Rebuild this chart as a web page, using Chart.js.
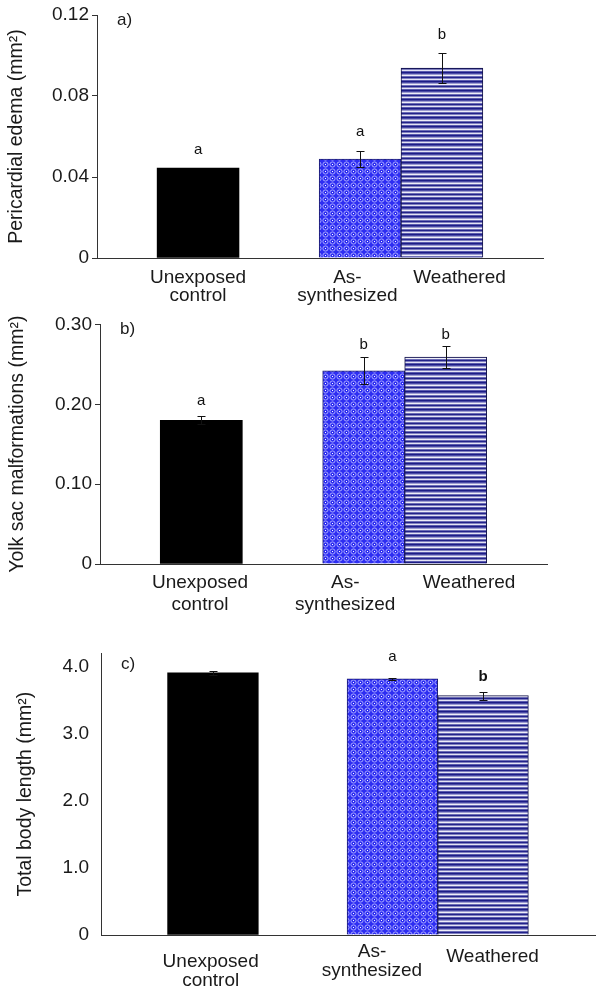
<!DOCTYPE html>
<html>
<head>
<meta charset="utf-8">
<script src="https://cdn.jsdelivr.net/npm/chart.js@4.4.1/dist/chart.umd.min.js"></script>
<style>
  html, body { margin: 0; padding: 0; background: #fff; }
  #wrap { position: relative; width: 600px; height: 998px; }
  canvas { position: absolute; left: 0; }
</style>
</head>
<body>
<div id="wrap">
  <canvas id="chartA" width="600" height="310" style="top:0px"></canvas>
  <canvas id="chartB" width="600" height="320" style="top:310px"></canvas>
  <canvas id="chartC" width="600" height="368" style="top:630px"></canvas>
</div>
<script>
// data
const categories = [['Unexposed', 'control'], ['As-', 'synthesized'], ['Weathered']];

const edema = [0.0444, 0.0489, 0.0938];
const edemaErr = [0, 0.004, 0.0075];
const edemaLetters = ['a', 'a', 'b'];
const edemaTicks = [0, 0.04, 0.08, 0.12];
const edemaTickLabels = ['0', '0.04', '0.08', '0.12'];

const yolk = [0.180, 0.242, 0.259];
const yolkErr = [0.005, 0.017, 0.014];
const yolkLetters = ['a', 'b', 'b'];
const yolkTicks = [0, 0.10, 0.20, 0.30];
const yolkTickLabels = ['0', '0.10', '0.20', '0.30'];

const bodyLength = [3.91, 3.82, 3.57];
const bodyLengthErr = [0.025, 0.02, 0.06];
const bodyLengthLetters = ['', 'a', 'b'];
const lengthTicks = [0, 1, 2, 3, 4];
const lengthTickLabels = ['0', '1.0', '2.0', '3.0', '4.0'];

// layout: where the bars sit on a 0..5.45 slot axis
const barSlots = [1.235, 3.215, 4.215];
const slotMax = 5.45;
const FONT = '"Liberation Sans", Arial, sans-serif';

// fill patterns
function dotPattern() {
  const c = document.createElement('canvas');
  c.width = 7; c.height = 7;
  const g = c.getContext('2d');
  g.fillStyle = '#2e2ef2';
  g.fillRect(0, 0, 7, 7);
  g.strokeStyle = '#a8a8ff';
  g.lineWidth = 1;
  g.beginPath();
  g.arc(3.5, 3.5, 2.6, 0, Math.PI * 2);
  g.stroke();
  g.fillStyle = '#ffffff';
  g.fillRect(3, 3, 1, 1);
  return g.createPattern(c, 'repeat');
}
function stripePattern() {
  const c = document.createElement('canvas');
  c.width = 4; c.height = 9;
  const g = c.getContext('2d');
  const rows = ['#1c1c86', '#4a4aa6', '#9c9cd0', '#eeeef8', '#6c6cb6',
                '#22228a', '#8080c0', '#e4e4f4', '#5a5aae'];
  rows.forEach((col, i) => { g.fillStyle = col; g.fillRect(0, i, 4, 1); });
  return g.createPattern(c, 'repeat');
}

function decorPlugin(cfg) {
  return {
    id: 'decor',
    afterDatasetsDraw(chart) {
      const ctx = chart.ctx;
      const meta = chart.getDatasetMeta(0);
      const xs = chart.scales.x, ys = chart.scales.y;
      const area = chart.chartArea;
      ctx.save();
      // error bars
      ctx.strokeStyle = '#111';
      ctx.lineWidth = 1;
      meta.data.forEach((bar, i) => {
        const e = cfg.err[i];
        if (!e) return;
        const v = cfg.values[i];
        const cx = Math.round(bar.x) + 0.5;
        const top = Math.round(ys.getPixelForValue(v + e)) + 0.5;
        const bot = Math.round(ys.getPixelForValue(v - e)) + 0.5;
        ctx.beginPath();
        ctx.moveTo(cx, top); ctx.lineTo(cx, bot);
        ctx.moveTo(cx - 4, top); ctx.lineTo(cx + 4, top);
        ctx.moveTo(cx - 4, bot); ctx.lineTo(cx + 4, bot);
        ctx.stroke();
      });
      // significance letters
      ctx.fillStyle = '#111';
      ctx.textAlign = 'center';
      ctx.textBaseline = 'middle';
      meta.data.forEach((bar, i) => {
        const l = cfg.letters[i];
        if (!l) return;
        ctx.font = cfg.letterFont[i] + ' 15px ' + FONT;
        const top = ys.getPixelForValue(cfg.values[i] + cfg.err[i]);
        ctx.fillText(l, bar.x, top - cfg.letterGap[i]);
      });
      // category labels
      ctx.fillStyle = '#1a1a1a';
      ctx.font = '19px ' + FONT;
      categories.forEach((lines, i) => {
        const px = xs.getPixelForValue(cfg.labelSlots[i]);
        lines.forEach((t, k) => {
          ctx.fillText(t, px, area.bottom + cfg.labelDy[i] + k * cfg.lineHeight);
        });
      });
      // panel tag
      ctx.textAlign = 'left';
      ctx.font = '17px ' + FONT;
      ctx.fillText(cfg.tag, area.left + 20, area.top + cfg.tagDy);
      ctx.restore();
    }
  };
}

function makePanel(id, cfg) {
  const colors = ['#000000', dotPattern(), stripePattern()];
  new Chart(document.getElementById(id), {
    type: 'bar',
    data: {
      datasets: [{
        data: cfg.values.map((v, i) => ({ x: barSlots[i], y: v })),
        backgroundColor: colors,
        borderColor: ['#000000', '#1a1a70', '#14144a'],
        borderWidth: [0, 1, 1],
        barPercentage: 1,
        categoryPercentage: 1
      }]
    },
    options: {
      responsive: false,
      animation: false,
      layout: { padding: cfg.padding },
      plugins: { legend: { display: false }, tooltip: { enabled: false } },
      scales: {
        x: {
          type: 'linear',
          offset: false,
          min: 0,
          max: slotMax,
          afterBuildTicks: s => { s.ticks = barSlots.map(v => ({ value: v })); },
          afterFit: s => { s.height = 0; },
          ticks: { display: false },
          grid: { display: false, offset: false },
          border: { display: true, color: '#333', width: 1 }
        },
        y: {
          min: 0,
          max: cfg.max,
          afterBuildTicks: s => { s.ticks = cfg.ticks.map(v => ({ value: v })); },
          afterFit: s => { s.width = cfg.axisWidth; },
          ticks: {
            color: '#1a1a1a',
            font: { family: FONT, size: 19 },
            padding: cfg.tickPad,
            callback: (v, i) => cfg.tickLabels[i]
          },
          grid: { display: true, drawOnChartArea: false, drawTicks: cfg.drawTicks, tickLength: 5, color: '#333' },
          border: { display: true, color: '#333', width: 1 },
          title: {
            display: true,
            text: cfg.title,
            color: '#1a1a1a',
            font: { family: FONT, size: 19.5 },
            padding: { top: cfg.titlePad, bottom: 0 }
          }
        }
      }
    },
    plugins: [decorPlugin(cfg)]
  });
}

makePanel('chartA', {
  values: edema, err: edemaErr, letters: edemaLetters,
  ticks: edemaTicks, tickLabels: edemaTickLabels, max: 0.12,
  title: 'Pericardial edema (mm²)', tag: 'a)',
  padding: { top: 15, bottom: 52, left: 0, right: 57 },
  axisWidth: 97, tickPad: 3, drawTicks: true, titlePad: 5,
  letterFont: ['normal', 'normal', 'normal'], letterGap: [18, 19, 18],
  labelSlots: [1.235, 3.06, 4.43], labelDy: [20, 20, 20], lineHeight: 18, tagDy: 5
});

makePanel('chartB', {
  values: yolk, err: yolkErr, letters: yolkLetters,
  ticks: yolkTicks, tickLabels: yolkTickLabels, max: 0.30,
  title: 'Yolk sac malformations (mm²)', tag: 'b)',
  padding: { top: 11, bottom: 66, left: 0, right: 53 },
  axisWidth: 100, tickPad: 3, drawTicks: true, titlePad: 6,
  letterFont: ['normal', 'normal', 'normal'], letterGap: [15, 12, 11],
  labelSlots: [1.22, 2.99, 4.5], labelDy: [19, 19, 19], lineHeight: 22, tagDy: 5
});

makePanel('chartC', {
  values: bodyLength, err: bodyLengthErr, letters: bodyLengthLetters,
  ticks: lengthTicks, tickLabels: lengthTickLabels, max: 4.2,
  title: 'Total body length (mm²)', tag: 'c)',
  padding: { top: 22, bottom: 63, left: 0, right: 5 },
  axisWidth: 101, tickPad: 12, drawTicks: false, titlePad: 14,
  letterFont: ['normal', 'normal', 'bold'], letterGap: [21, 21, 15],
  labelSlots: [1.21, 2.99, 4.32], labelDy: [27, 17, 22], lineHeight: 19, tagDy: 11
});
</script>
</body>
</html>
